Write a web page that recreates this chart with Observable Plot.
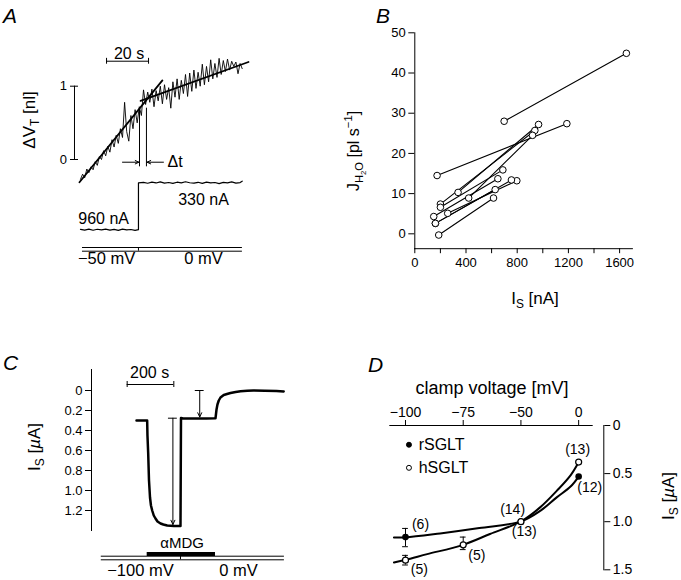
<!DOCTYPE html>
<html><head><meta charset="utf-8">
<script src="https://cdn.jsdelivr.net/npm/d3@7"></script>
<script src="https://cdn.jsdelivr.net/npm/@observablehq/plot@0.6"></script>
<style>
body{margin:0;background:#fff}
#fig{position:relative;width:681px;height:580px;overflow:hidden;font-family:"Liberation Sans",Arial,sans-serif;color:#000;background:#fff}
#fig svg{position:absolute;left:0;top:0;background:transparent;overflow:visible}
.lab{position:absolute;white-space:nowrap;font-size:17px;line-height:1}
.ctr{transform:translate(-50%,-50%)}
.rot{transform:translate(-50%,-50%) rotate(-90deg)}
.panel{position:absolute;font-style:italic;font-size:21px;line-height:1}
sub{font-size:70%;vertical-align:-0.35em;line-height:0}
sup{font-size:70%;vertical-align:0.6em;line-height:0}
</style></head><body><div id="fig"></div><script>
// ---------- Panel A data ----------
const aTime = [0,1,2,3,4,5,6,7,8,9,10,11,12,13,14,15,16,17,18,19,20,21,22,23,24,25,26,27,28,29,30,31,32,33,34,35,36,37,38,39,40,41,42,43,44,45,46,47,48,49,50,51,52,53,54,55,56,57,58,59,60,61,62,63,64,65,66,67,68,69,70,71,72,73,74,75,76,77];
const aVolume = [-0.27,-0.20,-0.25,-0.13,-0.18,-0.10,-0.14,-0.03,-0.08,0.04,
  0.00,0.12,0.05,0.18,0.10,0.27,0.17,0.33,0.22,0.42,
  0.30,0.78,0.38,0.25,0.60,0.42,0.68,0.50,0.72,0.60,
  0.95,0.75,0.92,0.78,0.96,0.72,0.94,0.80,1.00,0.76,
  1.02,0.82,0.98,0.70,1.06,0.85,1.10,0.82,1.08,0.90,
  1.16,0.86,1.18,0.93,1.22,0.97,1.19,1.00,1.30,1.02,
  1.27,1.06,1.36,1.10,1.31,1.12,1.38,1.16,1.35,1.20,
  1.37,1.22,1.34,1.27,1.33,1.17,1.31,1.24];
const aFit1T = [-0.5, 39], aFit1V = [-0.31, 1.08];
const aFit2T = [28.6, 80], aFit2V = [0.80, 1.33];
const aCurT = [0,2,4,6,8,10,12,14,16,18,20,22,24,26,27.6,27.6,30,32,34,36,38,40,42,44,46,48,50,52,54,56,58,60,62,64,66,68,70,72,74,76,77];
const aCurI = [958,968,955,970,957,966,954,969,958,971,956,965,960,972,962,335,
  328,340,325,336,322,338,330,342,326,335,320,333,338,327,341,324,336,330,345,328,334,322,339,331,312];
const aCurLabels = ["960 nA", "330 nA"], aCurLabelT = [11, 58.6], aCurLabelI = [812, 558];
const aVoltLabels = ["\u221250 mV", "0 mV"], aVoltLabelT = [12.4, 58.6];
const aStepT = 27.6;
const aDeltaT = [28.1, 31.4];

// ---------- Panel B data ----------
const bSeries  = [1,1, 2,2, 3,3, 4,4, 5,5, 6,6, 7,7, 8,8, 9,9, 10,10, 11,11];
const bCurrent = [698,1653, 174,1188, 338,967, 200,938, 421,920, 200,688, 148,649, 257,797, 161,755, 187,615, 161,628];
const bFlow    = [28.0,44.9, 14.5,27.4, 10.3,27.2, 7.4,25.7, 8.9,24.5, 6.6,15.9, 4.3,13.7, 5.1,13.2, 2.6,13.4, -0.3,8.9, 2.6,11.0];
const bXTicks = [0,200,400,600,800,1000,1200,1400,1600];
const bYTicks = [0,10,20,30,40,50];

// ---------- Panel C data ----------
const cTime = [0,45.7,47,50,53.6,57.9,62,67.3,74,81.4,90,103,115,131.6,160,188.6,190.7,200,250,300,338.6,341,343,347,352.7,360,374,388,403,425,446,475,501,550,600,631];
const cCurrent = [0.30,0.30,0.45,0.62,0.90,1.07,1.15,1.20,1.25,1.28,1.31,1.33,1.34,1.35,1.355,1.355,0.275,0.28,0.28,0.28,0.278,0.23,0.19,0.14,0.10,0.07,0.045,0.035,0.025,0.015,0.008,0.003,0,0.002,0.005,0.01];
const cYTicks = [0,0.2,0.4,0.6,0.8,1.0,1.2];
const cArrowT = [156, 271], cArrowFrom = [0.277, 0], cArrowTo = [1.34, 0.265];
const cDrugStart = 45.8, cDrugEnd = 338.6, cStepT = 188.6;
const cVoltLabels = ["\u2212100 mV", "0 mV"], cVoltLabelT = [17, 437];

// ---------- Panel D data ----------
const dTicks = [-100,-75,-50,0];
const dAxisBreaks = [-100,-50,0], dAxisUnits = [0,2,3]; // the voltage axis is compressed between -50 and 0 mV
const rV = [-100,-50,0], rI = [1.16,1.0,0.53], rN = ["(6)","(14)","(12)"];
const hV = [-100,-75,-50,0], hI = [1.40,1.24,1.0,0.38], hN = ["(5)","(5)","(13)","(13)"];
const rLabelV = [-93.5,-53.6,9.6], rLabelI = [1.034,0.878,0.649];
const hLabelV = [-94.0,-69.1,-47.1,-0.9], hLabelI = [1.493,1.347,1.101,0.253];
const errV = [-100,-100,-75], errLo = [1.07,1.35,1.16], errHi = [1.26,1.45,1.29];
const rFitV = [-105,-100,-85,-68,-50,-33,-19,-7,0];
const rFitI = [1.163,1.163,1.122,1.066,0.997,0.885,0.747,0.635,0.531];
const hFitV = [-105,-100,-90.6,-75.3,-63.4,-50,-33.4,-18.8,-7.2,0];
const hFitI = [1.424,1.396,1.337,1.243,1.128,0.997,0.851,0.677,0.521,0.382];
const legendNames = ["rSGLT","hSGLT"], legendI = [0.20,0.44];

// ---------- drawing ----------
const W = 681, H = 580;
const FONT = '"Liberation Sans", Arial, sans-serif';
const fig = document.getElementById("fig");
function add(opts) {
  const svg = Plot.plot({width: W, height: H,
    style: {fontFamily: FONT, fontSize: "13px", background: "transparent", overflow: "visible"}, ...opts});
  fig.appendChild(svg);
}
const zip2 = (xs, ys) => xs.map((x, i) => ({x, y: ys[i]}));

// Panel A: volume
add({
  x: {domain: [0, 80], range: [80, 248], axis: null},
  y: {domain: [-0.5, 1.5], range: [195.65, 49.05], axis: null},
  marks: [
    Plot.line(zip2(aTime, aVolume), {x: "x", y: "y", strokeWidth: 0.9}),
    Plot.line(zip2(aFit1T, aFit1V), {x: "x", y: "y", strokeWidth: 1.8}),
    Plot.line(zip2(aFit2T, aFit2V), {x: "x", y: "y", strokeWidth: 1.8}),
    Plot.ruleX([-2.86], {y1: 0, y2: 1, strokeWidth: 1}),
    Plot.ruleY([0, 1], {x1: -4.76, x2: -0.95, strokeWidth: 1}),
    Plot.text([0, 1], {x: -6.4, y: d => d, text: d => String(d), textAnchor: "end", fontSize: 13}),
    Plot.ruleY([1.341], {x1: 12.4, x2: 32.4, strokeWidth: 1}),
    Plot.ruleX([12.4, 32.4], {y1: 1.30, y2: 1.38, strokeWidth: 1}),
    Plot.text(["20 s"], {x: 23.1, y: 1.446, text: d => d, fontSize: 16}),
    Plot.ruleX(aDeltaT, {y1: -0.10, y2: 0.70, strokeWidth: 1}),
    Plot.arrow([{a: 20, b: 27.8}, {a: 39.5, b: 31.7}], {x1: "a", x2: "b", y1: -0.037, y2: -0.037, headLength: 6, headAngle: 50, strokeWidth: 1}),
    Plot.text(["\u0394t"], {x: 41.4, y: -0.037, text: d => d, textAnchor: "start", fontSize: 16})
  ]
});
// Panel A: current
add({
  x: {domain: [0, 80], range: [80, 248], axis: null},
  y: {domain: [0, 1200], range: [157.4, 246.9], axis: null},
  marks: [
    Plot.line(zip2(aCurT, aCurI), {x: "x", y: "y", strokeWidth: 1.2}),
    Plot.text(aCurLabels, {x: (d, i) => aCurLabelT[i], y: (d, i) => aCurLabelI[i], text: d => d, fontSize: 16})
  ]
});
// Panel A: voltage protocol
add({
  x: {domain: [0, 80], range: [80, 248], axis: null},
  y: {domain: [0, 1], range: [247, 250.7], axis: null},
  marks: [
    Plot.ruleY([0, 1], {x1: 0.95, x2: 77.1, strokeWidth: 1}),
    Plot.ruleX([aStepT], {y1: 0, y2: 1, strokeWidth: 1}),
    Plot.text(aVoltLabels, {x: (d, i) => aVoltLabelT[i], y: 3.0, text: d => d, fontSize: 16.5})
  ]
});

// Panel B
add({
  marginLeft: 414.3, marginRight: 49.1, marginTop: 32.3, marginBottom: 331.8,
  x: {domain: [0, 1700], ticks: bXTicks, tickFormat: d => d % 400 === 0 ? String(d) : "", tickSize: 5, line: true, label: null},
  y: {domain: [-3.7, 50], ticks: bYTicks, tickFormat: d => String(d), tickSize: 6, line: true, label: null},
  marks: [
    Plot.line(bCurrent.map((x, i) => ({x, y: bFlow[i], s: bSeries[i]})), {x: "x", y: "y", z: "s", strokeWidth: 1.1}),
    Plot.dot(zip2(bCurrent, bFlow), {x: "x", y: "y", r: 3.3, fill: "white", stroke: "black", strokeWidth: 1})
  ]
});

// Panel C: current trace
add({
  marginLeft: 91, marginRight: 397, marginTop: 369, marginBottom: 50,
  x: {domain: [-192.9, 634.4], axis: null},
  y: {domain: [1.40, -0.21], ticks: cYTicks, tickFormat: d => d === 0 ? "0" : d.toFixed(1), tickSize: 6, line: true, label: null},
  marks: [
    Plot.line(zip2(cTime, cCurrent), {x: "x", y: "y", strokeWidth: 2.5}),
    Plot.arrow(cArrowT.map((t, i) => ({t, a: cArrowFrom[i], b: cArrowTo[i]})), {x1: "t", x2: "t", y1: "a", y2: "b", headLength: 7, headAngle: 50, strokeWidth: 1}),
    Plot.ruleY(cArrowT.map((t, i) => ({t, a: cArrowFrom[i]})), {y: "a", x1: d => d.t - 19, x2: d => d.t + 19, strokeWidth: 1}),
    Plot.ruleY([-0.06], {x1: -40, x2: 160, strokeWidth: 1}),
    Plot.ruleX([-40, 160], {y1: -0.09, y2: -0.03, strokeWidth: 1}),
    Plot.text(["200 s"], {x: 56, y: -0.178, text: d => d, fontSize: 16})
  ]
});
// Panel C: protocol
add({
  x: {domain: [-192.9, 634.4], range: [91, 284], axis: null},
  y: {domain: [0, 1], range: [555.7, 559.3], axis: null},
  marks: [
    Plot.ruleY([0, 1], {x1: -151, x2: 634, strokeWidth: 1}),
    Plot.ruleX([cStepT], {y1: 0, y2: 1, strokeWidth: 1}),
    Plot.ruleY([-0.6], {x1: cDrugStart, x2: cDrugEnd, strokeWidth: 4}),
    Plot.text(["\u03b1MDG"], {x: 195.7, y: -3.6, text: d => d, fontSize: 15}),
    Plot.text(cVoltLabels, {x: (d, i) => cVoltLabelT[i], y: 4.0, text: d => d, fontSize: 16.5})
  ]
});

// Panel D (voltage axis is broken: -100..-50 at 25 mV per unit, -50..0 at 50 mV per unit)
const vPos = d3.scaleLinear().domain(dAxisBreaks).range(dAxisUnits);
const fmtV = d => d < 0 ? "\u2212" + Math.abs(d) : String(d);
const px = v => vPos(v);
add({
  marginLeft: 389.3, marginRight: 77.7, marginTop: 425, marginBottom: 10.7,
  style: {fontFamily: FONT, fontSize: "14px", background: "transparent", overflow: "visible"},
  x: {domain: [vPos(-106.8), vPos(12.6)], range: [389.3, 592.7], axis: "top", ticks: dTicks.map(vPos),
      tickFormat: d => fmtV(Math.round(vPos.invert(d))), tickSize: 6, label: null},
  y: {domain: [0, 1.5], range: [425, 569.3], axis: "right", ticks: [0, 0.5, 1, 1.5], tickFormat: d => d === 0 ? "0" : d.toFixed(1), tickSize: 6, line: true, label: null},
  marks: [
    Plot.ruleY([0], {x1: vPos(-106.8), x2: vPos(12.6), strokeWidth: 1}),
    Plot.line(zip2(rFitV, rFitI), {x: d => px(d.x), y: "y", curve: "catmull-rom", strokeWidth: 2}),
    Plot.line(zip2(hFitV, hFitI), {x: d => px(d.x), y: "y", curve: "catmull-rom", strokeWidth: 2}),
    Plot.ruleX(errV.map((v, i) => ({v, lo: errLo[i], hi: errHi[i]})), {x: d => px(d.v), y1: "lo", y2: "hi", strokeWidth: 1}),
    Plot.ruleY(errV.flatMap((v, i) => [{v, y: errLo[i]}, {v, y: errHi[i]}]), {y: "y", x1: d => px(d.v) - 0.05, x2: d => px(d.v) + 0.05, strokeWidth: 1}),
    Plot.dot(zip2(rV, rI), {x: d => px(d.x), y: "y", r: 3.3, fill: "black"}),
    Plot.dot(zip2(hV, hI), {x: d => px(d.x), y: "y", r: 3, fill: "white", stroke: "black", strokeWidth: 1.2}),
    Plot.text(rN, {x: (d, i) => px(rLabelV[i]), y: (d, i) => rLabelI[i], text: d => d, fontSize: 14}),
    Plot.text(hN, {x: (d, i) => px(hLabelV[i]), y: (d, i) => hLabelI[i], text: d => d, fontSize: 14}),
    Plot.dot(legendNames, {x: px(-98.5), y: (d, i) => legendI[i], r: 2.5, fill: (d, i) => i === 0 ? "black" : "white", stroke: "black", strokeWidth: 1}),
    Plot.text(legendNames, {x: px(-94.3), y: (d, i) => legendI[i], text: d => d, textAnchor: "start", fontSize: 16})
  ]
});

// text labels (HTML)
function label(html, x, y, cls, size) {
  const el = document.createElement("div");
  el.className = cls; el.innerHTML = html;
  el.style.left = x + "px"; el.style.top = y + "px";
  if (size) el.style.fontSize = size + "px";
  fig.appendChild(el);
}
label("A", 3, 5, "panel");
label("B", 376, 5, "panel");
label("C", 3, 352, "panel");
label("D", 368, 354, "panel");
label("\u0394V<sub>T</sub> [nl]", 29, 120, "lab rot");
label("J<sub>H<sub>2</sub>O</sub> [pl s<sup>\u22121</sup>]", 355, 151, "lab rot", 16);
label("I<sub>S</sub> [nA]", 535, 298, "lab ctr");
label("I<sub>S</sub> [<i>\u00b5</i>A]", 34, 447, "lab rot");
label("I<sub>S</sub> [<i>\u00b5</i>A]", 668, 496, "lab rot");
label("clamp voltage [mV]", 492, 388, "lab ctr", 18);
</script></body></html>
